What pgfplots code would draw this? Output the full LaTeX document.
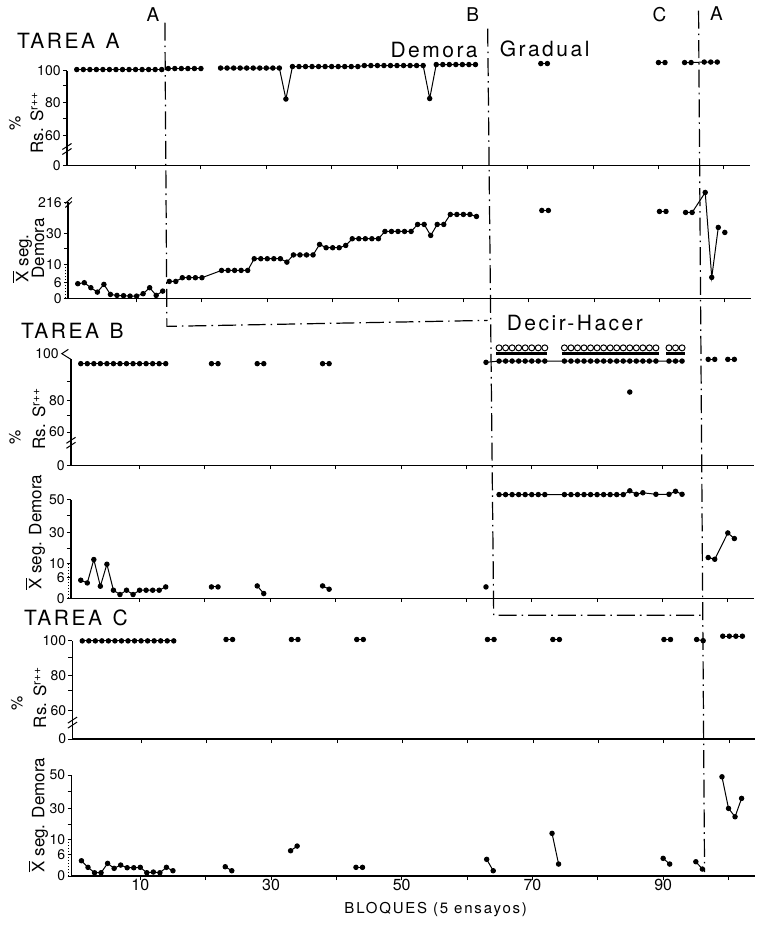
\documentclass[border=0pt]{standalone}
\usepackage{fontspec}
\setmainfont{TeX Gyre Heros}
\newfontfamily\wide[LetterSpace=12]{TeX Gyre Heros}
\usepackage{pgfplots}
\pgfplotsset{compat=1.18}

% y values are heights above each panel's baseline
% (the hand-drawn y scales are not linear), ticks carry the printed labels
\pgfplotsset{
  panel/.style={
    anchor=south west,
    x=3.27pt, y=0.5pt,
    xmin=-0.5, xmax=104, ymin=0,
    axis x line=bottom, axis y line=left,
    axis line style={-, line width=0.7pt},
    tick align=outside, major tick length=2pt,
    tick style={black, line width=0.5pt},
    xtick={10,20,...,100}, xticklabels={},
    yticklabel style={font=\fontsize{7}{8}\selectfont, inner sep=1pt},
    /pgf/number format/assume math mode=true,
    clip=false,
  },
}
\tikzset{
  pt/.style={black, line width=0.5pt, mark=*, mark size=1.1pt},
  brk/.style={black, line width=0.5pt},
  dd/.style={line width=0.6pt, dash pattern=on 9pt off 2.5pt on 0.8pt off 2.5pt},
}

\begin{document}
\begin{tikzpicture}
\begin{scope}[x=0.5pt,y=-0.5pt]
  \path[use as bounding box] (0,0) rectangle (756,927);
\end{scope}

% ---------- TAREA A, % Rs ----------
\begin{axis}[panel, at={(33.5pt,-82.5pt)}, ymax=95,
  ytick={0,30,46.7,63,80,95}, yticklabels={0,60,,80,,100}]
\addplot[pt] coordinates {(1,96)(2,96)(3,96)(4,96)(5,96)(6,96)(7,96)(8,96)(9,96)(10,96)(11,96)(12,96)(13,96)(14,96)};
\addplot[pt] coordinates {(15,97)(16,97)(17,97)(18,97)(19,97)(20,97)};
\addplot[pt] coordinates {(23,97.5)(24,97.5)(25,97.5)(26,97.5)(27,97.5)(28,97.5)(29,97.5)(30,97.5)(31,97.5)(32,97.5)(33,66.5)
  (34,99)(35,99)(36,99)(37,99)(38,99)(39,99)(40,99)(41,99)(42,99)(43,99)(44,99)
  (45,100)(46,100)(47,100)(48,100)(49,100)(50,100)(51,100)(52,100)(53,100)(54,100)(55,67)
  (56,101)(57,101)(58,101)(59,101)(60,101)(61,101)(62,101)};
\addplot[pt] coordinates {(72,102)(73,102)};
\addplot[pt] coordinates {(90,103)(91,103)};
\addplot[pt] coordinates {(94,103)(95,103)(97,103.5)(98,103.5)(99,103.5)};
\draw[brk] (axis cs:-1.2,11) -- (axis cs:0.2,17);
\draw[brk] (axis cs:-1.2,16) -- (axis cs:0.2,22);
\end{axis}

% ---------- TAREA A, demora ----------
\begin{axis}[panel, at={(34pt,-149pt)}, ymax=96,
  ytick={0,16,34,50,65,96}, yticklabels={0,6,10,,30,216}]
\addplot[pt] coordinates {(1,14.7)(2,15.7)(3,10.7)(4,6.3)(5,14)(6,4)(7,3)(8,2.7)(9,2.3)(10,2.3)(11,4.7)(12,10.7)(13,3)(14,7.3)};
\addplot[pt] coordinates {(15,17)(16,17)(17,20.7)(18,20.7)(19,20.7)(20,20.7)(23,28)(24,28)(25,28)(26,28)(27,28)
  (28,39.7)(29,39.7)(30,39.7)(31,39.7)(32,39.7)(33,36.3)(34,43.5)(35,43.5)(36,43.5)(37,43.5)
  (38,54)(39,50.7)(40,50.7)(41,50.7)(42,53)(43,59.7)(44,59.7)(45,59.7)(46,59.7)(47,59.7)
  (48,67)(49,67)(50,67)(51,67)(52,67)(53,74)(54,74)(55,63)(56,74)(57,74)
  (58,84)(59,84)(60,84)(61,84)(62,82)};
\addplot[pt] coordinates {(72,88)(73,88)};
\addplot[pt] coordinates {(90,87)(91,87)};
\addplot[pt] coordinates {(94,86)(95,86)(97,106)(98,21)(99,71)};
\addplot[pt] coordinates {(100,66)};
\draw[brk, densely dotted] (axis cs:-0.95,0) -- (axis cs:-0.95,34);
\draw[brk] (axis cs:-0.9,91) -- (axis cs:0.1,97);
\draw[brk] (axis cs:-0.9,95) -- (axis cs:0.1,101);
\end{axis}

% ---------- TAREA B, % Rs ----------
\begin{axis}[panel, at={(35.5pt,-232.5pt)}, ymax=106,
  ytick={0,33.3,50,65,84}, yticklabels={0,60,,80,}]
\addplot[pt] coordinates {(1,101.7)(2,101.7)(3,101.7)(4,101.7)(5,101.7)(6,101.7)(7,101.7)(8,101.7)(9,101.7)(10,101.7)(11,101.7)(12,101.7)(13,101.7)(14,101.7)};
\addplot[pt] coordinates {(21,101.7)(22,101.7)};
\addplot[pt] coordinates {(28,101.7)(29,101.7)};
\addplot[pt] coordinates {(38,101.7)(39,101.7)};
\addplot[pt] coordinates {(63,103)(65,104.3)(66,104.3)(67,104.3)(68,104.3)(69,104.3)(70,104.3)(71,104.3)(72,104.3)
  (75,104.3)(76,104.3)(77,104.3)(78,104.3)(79,104.3)(80,104.3)(81,104.3)(82,104.3)(83,104.3)(84,104.3)(85,104.3)(86,104.3)(87,104.3)(88,104.3)(89,104.3)
  (91,104.3)(92,104.3)(93,104.3)};
\addplot[pt, only marks] coordinates {(85,73.3)};
\addplot[black, line width=1.6pt] coordinates {(64.6,111.5)(72.4,111.5)};
\addplot[black, line width=1.6pt] coordinates {(74.6,111.5)(89.4,111.5)};
\addplot[black, line width=1.6pt] coordinates {(90.6,111.5)(93.4,111.5)};
\addplot[black, only marks, mark=o, mark size=1.5pt, line width=0.5pt] coordinates {(65,117.5)(66,117.5)(67,117.5)(68,117.5)(69,117.5)(70,117.5)(71,117.5)(72,117.5)
  (75,117.5)(76,117.5)(77,117.5)(78,117.5)(79,117.5)(80,117.5)(81,117.5)(82,117.5)(83,117.5)(84,117.5)(85,117.5)(86,117.5)(87,117.5)(88,117.5)(89,117.5)
  (91,117.5)(92,117.5)(93,117.5)};
\addplot[pt] coordinates {(97,106)(98,106)};
\addplot[pt] coordinates {(100,106)(101,106)};
\draw[brk] (axis cs:-0.5,106) -- (axis cs:-1.9,111.7) -- (axis cs:-0.9,116);
\node[anchor=east, font=\fontsize{7}{8}\selectfont, inner sep=1pt] at (axis cs:-2.0,111.7) {100};
\draw[brk] (axis cs:-1.2,17) -- (axis cs:0.2,23);
\draw[brk] (axis cs:-1.2,22) -- (axis cs:0.2,28);
\end{axis}

% ---------- TAREA B, demora ----------
\begin{axis}[panel, at={(35.5pt,-299pt)}, ymax=98.7,
  ytick={0,20.7,34.7,50,65.3,83,98.7}, yticklabels={0,6,10,,30,,50}]
\addplot[pt] coordinates {(1,18)(2,15.3)(3,38.7)(4,12)(5,34)(6,8)(7,3.7)(8,8)(9,3.7)(10,8)(11,8)(12,8)(13,8)(14,11.3)};
\addplot[pt] coordinates {(21,11.3)(22,11.3)};
\addplot[pt] coordinates {(28,12.3)(29,4.7)};
\addplot[pt] coordinates {(38,12.3)(39,9)};
\addplot[pt] coordinates {(63,11.3)};
\addplot[pt] coordinates {(65,103.7)(66,103.7)(67,103.7)(68,103.7)(69,103.7)(70,103.7)(71,103.7)(72,103.7)
  (75,103.7)(76,103.7)(77,103.7)(78,103.7)(79,103.7)(80,103.7)(81,103.7)(82,103.7)(83,103.7)(84,103.7)
  (85,107.5)(86,104)(87,105.5)(89,104)(91,104)(92,107)(93,104)};
\addplot[pt] coordinates {(97,40.7)(98,39)(100,65.3)(101,59.7)};
\draw[brk, densely dotted] (axis cs:-0.95,0) -- (axis cs:-0.95,34.7);
\end{axis}

% ---------- TAREA C, % Rs ----------
\begin{axis}[panel, at={(36.25pt,-369.5pt)}, ymax=98.3,
  ytick={0,29,49,64,82,98.3}, yticklabels={0,60,,80,,100}]
\addplot[pt] coordinates {(1,98.3)(2,98.3)(3,98.3)(4,98.3)(5,98.3)(6,98.3)(7,98.3)(8,98.3)(9,98.3)(10,98.3)(11,98.3)(12,98.3)(13,98.3)(14,98.3)(15,98.3)};
\addplot[pt] coordinates {(23,99.7)(24,99.7)};
\addplot[pt] coordinates {(33,99.7)(34,99.7)};
\addplot[pt] coordinates {(43,99.7)(44,99.7)};
\addplot[pt] coordinates {(63,99.7)(64,99.7)};
\addplot[pt] coordinates {(73,99.7)(74,99.7)};
\addplot[pt] coordinates {(90,99.7)(91,99.7)};
\addplot[pt] coordinates {(95,99.7)(96,98.5)};
\addplot[pt] coordinates {(99,103)(100,103)(101,103)(102,103)};
\draw[brk] (axis cs:-1.2,11) -- (axis cs:0.2,17);
\draw[brk] (axis cs:-1.2,16) -- (axis cs:0.2,22);
\end{axis}

% ---------- TAREA C, demora ----------
\begin{axis}[panel, at={(35.85pt,-438pt)}, ymax=101,
  ytick={0,21.7,36.7,52,67.7,85,101}, yticklabels={0,6,10,,30,,50},
  xticklabels={10,,30,,50,,70,,90,},
  xticklabel style={font=\fontsize{8}{9}\selectfont, inner sep=0.5pt, yshift=1pt}]
\addplot[pt] coordinates {(1,15.3)(2,8.7)(3,3.3)(4,3.3)(5,12.7)(6,7.7)(7,11)(8,8.3)(9,8.3)(10,8.7)(11,3.3)(12,4)(13,3.3)(14,8.7)(15,5.3)};
\addplot[pt] coordinates {(23,9.3)(24,5.3)};
\addplot[pt] coordinates {(33,25.3)(34,30)};
\addplot[pt] coordinates {(43,8.7)(44,8.7)};
\addplot[pt] coordinates {(63,16.7)(64,5.3)};
\addplot[pt] coordinates {(73,42.7)(74,12)};
\addplot[pt] coordinates {(90,17.7)(91,12)};
\addplot[pt] coordinates {(95,14.3)(96,7)};
\addplot[pt] coordinates {(99,99.3)(100,67.7)(101,59.3)(102,77.7)};
\draw[brk, densely dotted] (axis cs:-0.95,0) -- (axis cs:-0.95,36.7);
\end{axis}

% ---------- phase lines and texts (pixel grid of the scan) ----------
\begin{scope}[x=0.5pt,y=-0.5pt]
  \draw[dd] (165,22) -- (167,326) -- (488,320);
  \draw[dd] (488,28) -- (494,615) -- (703,615);
  \draw[dd] (699,10) -- (705,872);

  \node[font=\fontsize{9.5}{10}\selectfont] at (153,14) {A};
  \node[font=\fontsize{9.5}{10}\selectfont] at (473,14) {B};
  \node[font=\fontsize{9.5}{10}\selectfont] at (660,14) {C};
  \node[font=\fontsize{9.5}{10}\selectfont] at (717,13) {A};

  \node[anchor=west, font=\wide\fontsize{10.5}{12}\selectfont] at (10,40) {TAREA\hspace{0.5em}A};
  \node[anchor=west, font=\wide\fontsize{10.5}{12}\selectfont] at (14,330) {TAREA\hspace{0.5em}B};
  \node[anchor=west, font=\wide\fontsize{10.5}{12}\selectfont] at (17,618) {TAREA\hspace{0.5em}C};

  \node[anchor=east, font=\wide\fontsize{10.5}{12}\selectfont] at (485,49) {Demora};
  \node[anchor=west, font=\wide\fontsize{10.5}{12}\selectfont] at (493,48) {Gradual};
  \node[anchor=west, font=\wide\fontsize{10.5}{12}\selectfont] at (500,323) {Decir-Hacer};

  \node[rotate=90, font=\fontsize{8}{9}\selectfont] at (15,123) {\%};
  \node[rotate=90, font=\fontsize{8.5}{9}\selectfont] at (37,122) {Rs. S\textsuperscript{r++}};
  \node[rotate=90, font=\fontsize{8}{9}\selectfont] at (15,437) {\%};
  \node[rotate=90, font=\fontsize{8.5}{9}\selectfont] at (39,418) {Rs. S\textsuperscript{r++}};
  \node[rotate=90, font=\fontsize{8}{9}\selectfont] at (17,703) {\%};
  \node[rotate=90, font=\fontsize{8.5}{9}\selectfont] at (40,697) {Rs. S\textsuperscript{r++}};

  \node[rotate=90, font=\fontsize{8.5}{9}\selectfont] at (22,258) {$\overline{\mbox{X}}$ seg.};
  \node[rotate=90, font=\fontsize{8.5}{9}\selectfont] at (38,248) {Demora};
  \node[rotate=90, font=\fontsize{8.5}{9}\selectfont] at (35,532) {$\overline{\mbox{X}}$ seg. Demora};
  \node[rotate=90, font=\fontsize{8.5}{9}\selectfont] at (38,815) {$\overline{\mbox{X}}$ seg. Demora};

  \node[font=\wide\fontsize{7.5}{9}\selectfont] at (436,910) {BLOQUES (5 ensayos)};
\end{scope}
\end{tikzpicture}
\end{document}
